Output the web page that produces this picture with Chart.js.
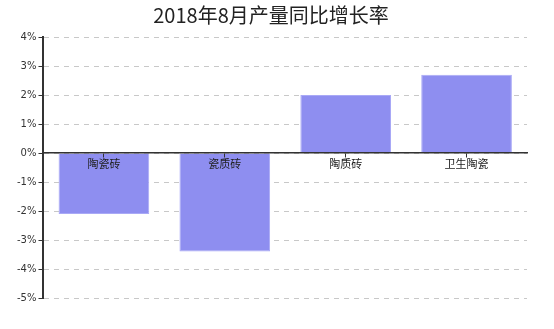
<!DOCTYPE html>
<html>
<head>
<meta charset="utf-8">
<script src="https://cdn.jsdelivr.net/npm/chart.js@4"></script>
<style>
  html, body { margin: 0; padding: 0; background: #fff; }
  #wrap { width: 554px; height: 329px; }
</style>
</head>
<body>
<div id="wrap"><canvas id="barChart"></canvas></div>
<script>
// 类别与同比增长率 (%)
var categories = ['陶瓷砖', '瓷质砖', '陶质砖', '卫生陶瓷'];
var growthRates = [-2.1, -3.4, 2.0, 2.7];
var yMin = -5, yMax = 4;

var ctx = document.getElementById('barChart').getContext('2d');
var cjk = '"Noto Sans CJK SC", "Noto Sans", sans-serif';

var barChart = new Chart(ctx, {
  type: 'bar',
  data: {
    labels: categories,
    datasets: [{
      data: growthRates,
      backgroundColor: '#8e8ef0',
      borderColor: '#a9a9f6',
      borderWidth: 1,
      barPercentage: 0.75,
      categoryPercentage: 1.0
    }]
  },
  options: {
    responsive: true,
    maintainAspectRatio: false,
    animation: false,
    layout: { padding: { left: 15, right: 27, bottom: 31 } },
    plugins: {
      legend: { display: false },
      tooltip: { enabled: false },
      title: {
        display: true,
        text: '2018年8月产量同比增长率',
        color: '#222',
        font: { family: cjk, size: 20, weight: 'normal', lineHeight: 1.2 },
        padding: { top: 3, bottom: 10 }
      }
    },
    scales: {
      x: {
        position: { y: 0 },
        // 轴线、刻度和类别标签都画在柱子上方
        grid: {
          z: 1,
          offset: false,
          drawOnChartArea: false,
          drawTicks: true,
          tickLength: 4,
          tickColor: '#333'
        },
        border: { z: 1, color: '#333', width: 1.5 },
        ticks: {
          z: 1,
          color: '#222',
          padding: 0,
          font: { family: cjk, size: 11 }
        }
      },
      y: {
        min: yMin,
        max: yMax,
        grid: {
          color: '#c8c8c8',
          tickColor: '#333',
          tickLength: 5,
          tickBorderDash: []
        },
        border: { color: '#333', width: 2, dash: [5, 5] },
        ticks: {
          stepSize: 1,
          color: '#333',
          padding: 2,
          font: { family: '"DejaVu Sans", sans-serif', size: 10 },
          callback: function (v) { return v + '%'; }
        }
      }
    }
  }
});
</script>
</body>
</html>
